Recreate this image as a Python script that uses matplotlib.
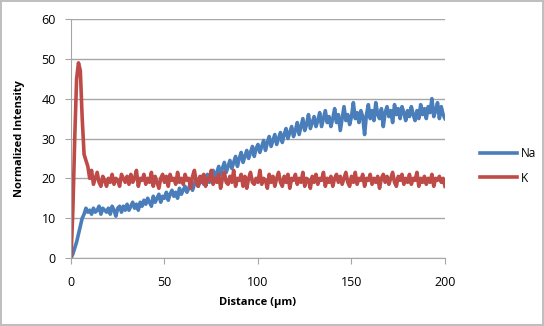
import numpy as np
import matplotlib.pyplot as plt

# Distance in um, one reading per micron
distance = np.arange(0, 201)

na = [0, 1, 2.5, 4, 6, 8, 10, 11, 12.5, 11.5,
      12, 11, 12.5, 11.5, 12, 13, 11, 12.5, 12, 11.5,
      12.5, 11, 13, 12, 10.5, 12.5, 13, 11.5, 13, 12,
      13.5, 12, 13, 14, 12.5, 13.5, 12, 14, 13, 14.5,
      13.5, 15, 14, 13, 15.5, 14, 15, 16, 14, 15.5,
      15, 16.5, 14.5, 16, 17, 15.5, 16.5, 15, 17.5, 16,
      17, 18, 16.5, 17.5, 19, 17, 18.5, 20, 18, 19,
      20.5, 18.5, 19.5, 21, 19, 20.5, 22, 20, 21.5, 23,
      21, 22.5, 24, 21.5, 23, 24.5, 22.5, 24, 25.5, 23,
      25, 26.5, 24, 25.5, 27, 25, 26.5, 28, 25.5, 27.5,
      28.5, 26.5, 28, 29.5, 27, 29, 30.5, 28, 29.5, 31,
      28.5, 30, 31.5, 29, 31, 32.5, 30, 31.5, 33, 30.5,
      32, 34, 31, 33, 35, 32, 33.5, 36, 32.5, 34,
      35.5, 33, 34.5, 36.5, 33, 35, 37, 34, 35.5, 33,
      35, 37.5, 34, 36, 32, 35, 38, 34.5, 36, 33.5,
      35.5, 39, 35, 36.5, 34, 37, 35.5, 31, 36, 38.5,
      35, 37, 34.5, 39, 36, 35, 37.5, 33, 36.5, 38,
      35.5, 37, 34, 38.5, 36, 37.5, 35, 38, 36.5, 34.5,
      37, 35.5, 38, 36, 34.5, 37, 35, 38.5, 36, 37.5,
      35, 38, 36.5, 40, 35.5, 37, 39, 35, 38, 36,
      35]

k = [0, 12, 30, 45, 49, 47, 35, 26, 24.5, 23,
     20, 22, 18.5, 20, 21.5, 19, 18, 20.5, 19.5, 18,
     20, 19, 21, 18.5, 20, 19.5, 18, 21, 20, 19,
     20.5, 18.5, 21, 19, 20, 22, 18, 20, 19.5, 21,
     18.5, 20, 19, 21.5, 18, 20.5, 19, 17.5, 20, 21,
     19, 20.5, 18, 21, 19.5, 20, 18.5, 21.5, 19, 20,
     18.5, 21, 19.5, 20, 17.5, 20.5, 22, 19, 18, 20.5,
     19, 21, 18, 20, 19.5, 22, 18.5, 20, 19, 21,
     17.5, 20, 21.5, 19, 18.5, 20.5, 19, 22, 18, 20,
     19.5, 21, 18, 20.5, 17.5, 20, 21.5, 19, 18.5, 20,
     19, 22, 18.5, 20, 19.5, 17.5, 21, 19, 20.5, 18,
     20, 21.5, 19, 18, 20.5, 19, 21, 17.5, 20, 19.5,
     21, 18.5, 20, 19, 21.5, 18, 20, 19.5, 17.5, 20.5,
     19, 21, 18.5, 20, 19.5, 21.5, 18, 20, 19, 20.5,
     18, 20, 21, 19, 20.5, 18.5, 20, 21.5, 19, 18,
     20.5, 19, 21.5, 18.5, 20, 19.5, 21, 18, 20, 19.5,
     21, 18.5, 20, 19, 20.5, 17.5, 20, 21, 19, 20.5,
     18.5, 20, 21.5, 19, 18, 20.5, 19.5, 21, 18.5, 20,
     19, 21, 18.5, 20, 19.5, 21.5, 18, 20, 19, 20.5,
     18.5, 20, 19, 21, 18, 20, 19.5, 20.5, 19, 20,
     18]

plt.rcParams['font.family'] = ['Open Sans', 'DejaVu Sans']

fig = plt.figure(figsize=(5.44, 3.26), dpi=100)
fig.patch.set_edgecolor('#bfbfbf')
fig.patch.set_linewidth(1.5)

ax = fig.add_axes([0.1305, 0.2086, 0.6875, 0.7331])
ax.plot(distance, na, color='#4a7ebb', lw=2.6, label='Na')
ax.plot(distance, k, color='#be4b48', lw=2.6, label='K')

ax.set_xlim(0, 200)
ax.set_ylim(0, 60)
ax.set_xticks([0, 50, 100, 150, 200])
ax.set_yticks(range(0, 61, 10))
ax.grid(axis='y', color='#a6a6a6', lw=1)
ax.set_axisbelow(True)
for s in ['top', 'right']:
    ax.spines[s].set_visible(False)
for s in ['left', 'bottom']:
    ax.spines[s].set_color('#a6a6a6')
ax.tick_params(colors='#a6a6a6', labelcolor='black', labelsize=9, length=4)
ax.tick_params(axis='x', pad=9)
ax.tick_params(axis='y', pad=7)

ax.set_xlabel('Distance (µm)', fontsize=8, fontweight='bold', labelpad=6)
ax.set_ylabel('Normalized Intensity', fontsize=8, fontweight='bold', labelpad=12)

fig.legend(loc='center left', bbox_to_anchor=(0.862, 0.492), frameon=False,
           fontsize=8.5, handlelength=3.2, handletextpad=0.3, labelspacing=1.0)

plt.savefig('out.png', dpi=100)
